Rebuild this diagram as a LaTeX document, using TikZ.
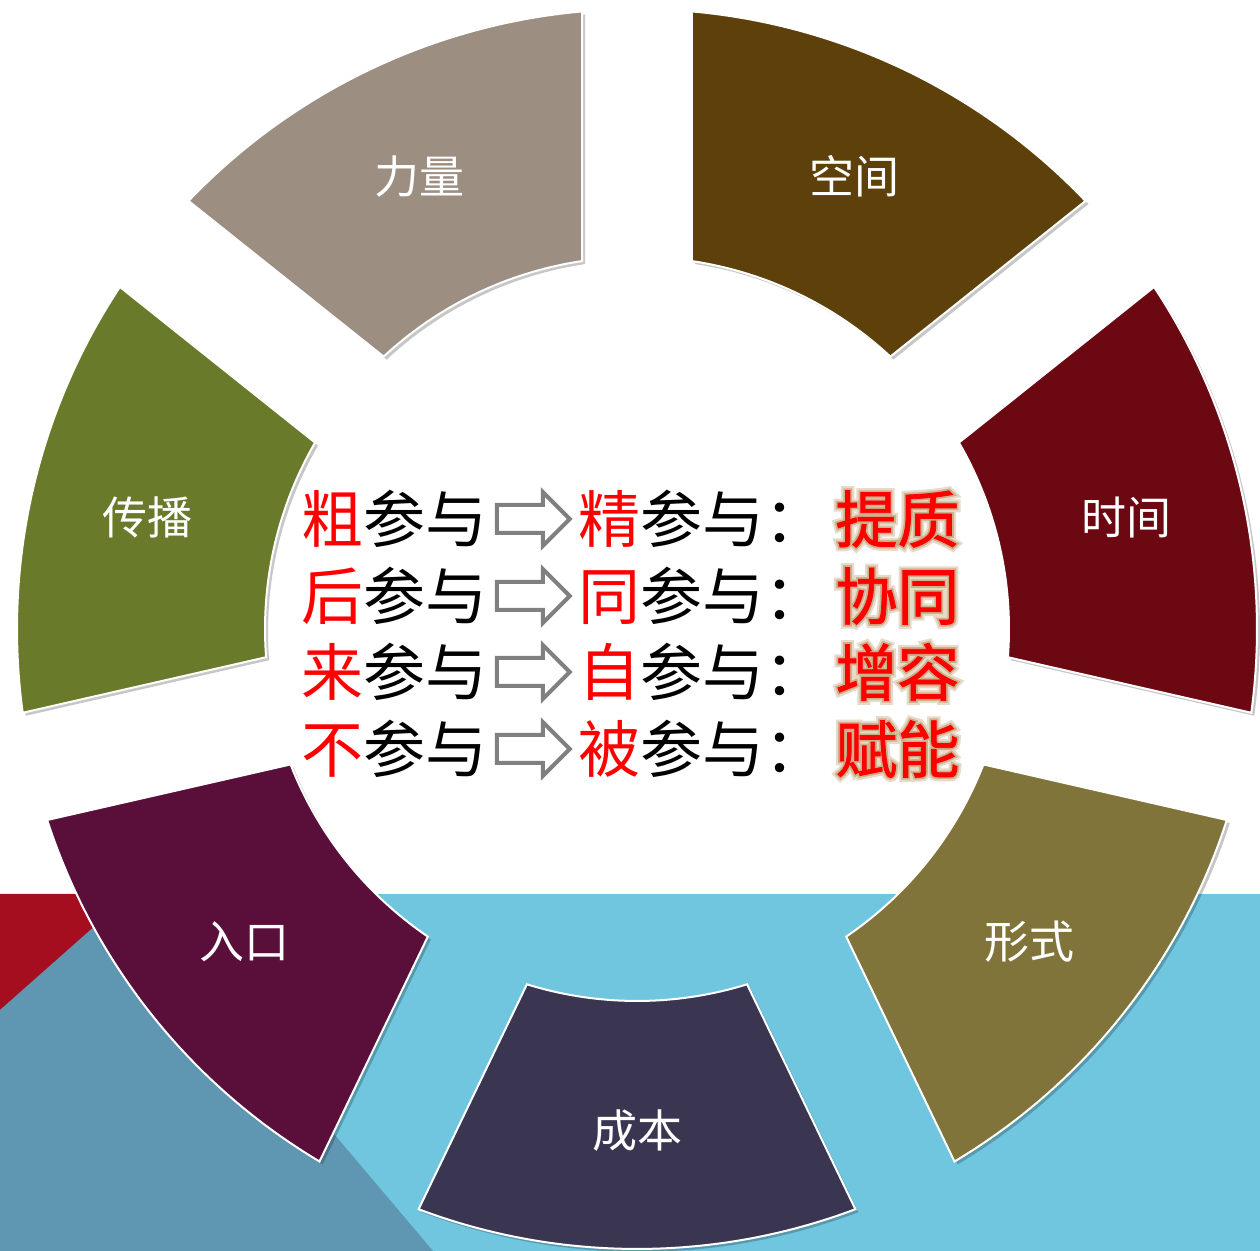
\documentclass[tikz,border=0pt]{standalone}
\usepackage{fontspec}
\newfontfamily\cjk{Noto Sans CJK SC}
\newfontfamily\cjkkey[FakeBold=1.2]{Noto Sans CJK SC}
\newfontfamily\cjkglowA[FakeBold=14]{Noto Sans CJK SC}
\newfontfamily\cjkglowB[FakeBold=7]{Noto Sans CJK SC}
\usetikzlibrary{positioning}

\definecolor{cChengben}{HTML}{3A3652}
\definecolor{cXingshi}{HTML}{80743A}
\definecolor{cShijian}{HTML}{6B0812}
\definecolor{cKongjian}{HTML}{5E400B}
\definecolor{cLiliang}{HTML}{9C8F82}
\definecolor{cChuanbo}{HTML}{697A2A}
\definecolor{cRukou}{HTML}{5A0F3B}
\definecolor{bandblue}{HTML}{6FC6DE}
\definecolor{bandsteel}{HTML}{5F96B1}
\definecolor{bandred}{HTML}{A50E1F}
\definecolor{arrowgray}{HTML}{808080}
\definecolor{glowtan}{HTML}{C4A278}

\tikzset{
    sector/.style = {draw=white, line width=1pt},% one ring piece
    secshadow/.style = {fill=black, opacity=0.22},
    seclabel/.style = {font=\cjk\fontsize{22.5}{27}\selectfont,
                       text=white, inner sep=0pt},
    rowtext/.style = {font=\cjk\fontsize{31}{37}\selectfont,
                      inner sep=0pt, anchor=west},
    keyglowA/.style = {font=\cjkglowA\fontsize{31}{37}\selectfont,
                       text=glowtan, opacity=0.4, inner sep=0pt, anchor=west},
    keyglowB/.style = {font=\cjkglowB\fontsize{31}{37}\selectfont,
                       text=glowtan, opacity=0.75, inner sep=0pt, anchor=west},
    keytext/.style = {font=\cjkkey\fontsize{31}{37}\selectfont,
                      text=red, inner sep=0pt, anchor=west},
    garrow/.style = {draw=arrowgray, line width=2pt, fill=white,
                     line join=miter},
}

\begin{document}
\begin{tikzpicture}[x=0.5pt, y=0.5pt]
\useasboundingbox (0,0) rectangle (1260,1251);
% background band
\fill[bandblue] (0,0) rectangle (1260,357);
\fill[bandred] (0,357) -- (160,357) -- (0,241) -- cycle;
\fill[bandsteel] (131,357) -- (433,0) -- (0,0) -- (0,241) -- cycle;
% ring of seven pieces
\begin{scope}[shift={(637,622)}]
\foreach \n/\col/\txt [count=\i from 0] in {chengben/cChengben/成本,
        xingshi/cXingshi/形式, shijian/cShijian/时间, kongjian/cKongjian/空间,
        liliang/cLiliang/力量, chuanbo/cChuanbo/传播, rukou/cRukou/入口}
{
    \pgfmathsetmacro\a{270+\i*360/7}
    \fill[secshadow, shift={(3,-3)}] (\a-20.625:620)
        arc[start angle=\a-20.625, end angle=\a+20.625, radius=620]
        -- (\a+17.212:372)
        arc[start angle=\a+17.212, end angle=\a-17.212, radius=372] -- cycle;
    \path[sector, fill=\col] (\a-20.625:620)
        arc[start angle=\a-20.625, end angle=\a+20.625, radius=620]
        -- (\a+17.212:372)
        arc[start angle=\a+17.212, end angle=\a-17.212, radius=372] -- cycle;
    \node[seclabel] (\n) at (\a:502) {\txt};
}
\end{scope}
% centre text, one row per entry
\foreach \y/\p/\q/\k [count=\r] in {732/粗/精/提质, 655/后/同/协同,
                                   579/来/自/增容, 502/不/被/赋能}
{
    \node[rowtext] (row\r a) at (301,\y) {\textcolor{red}{\p}参与};
    \draw[garrow] ([xshift=4.5pt]row\r a.east) ++(0,14) -- ++(46,0) -- ++(0,13)
        -- ++(27,-27) -- ++(-27,-27) -- ++(0,13) -- ++(-46,0) -- cycle;
    \node[rowtext] (row\r b) at (578,\y) {\textcolor{red}{\q}参与：};
    \node[keyglowA] (glow\r) at (835,\y) {\k};
    \node[keyglowB] at (glow\r.west) {\k};
    \node[keytext] (row\r c) at (glow\r.west) {\k};
}
\end{tikzpicture}
\end{document}
